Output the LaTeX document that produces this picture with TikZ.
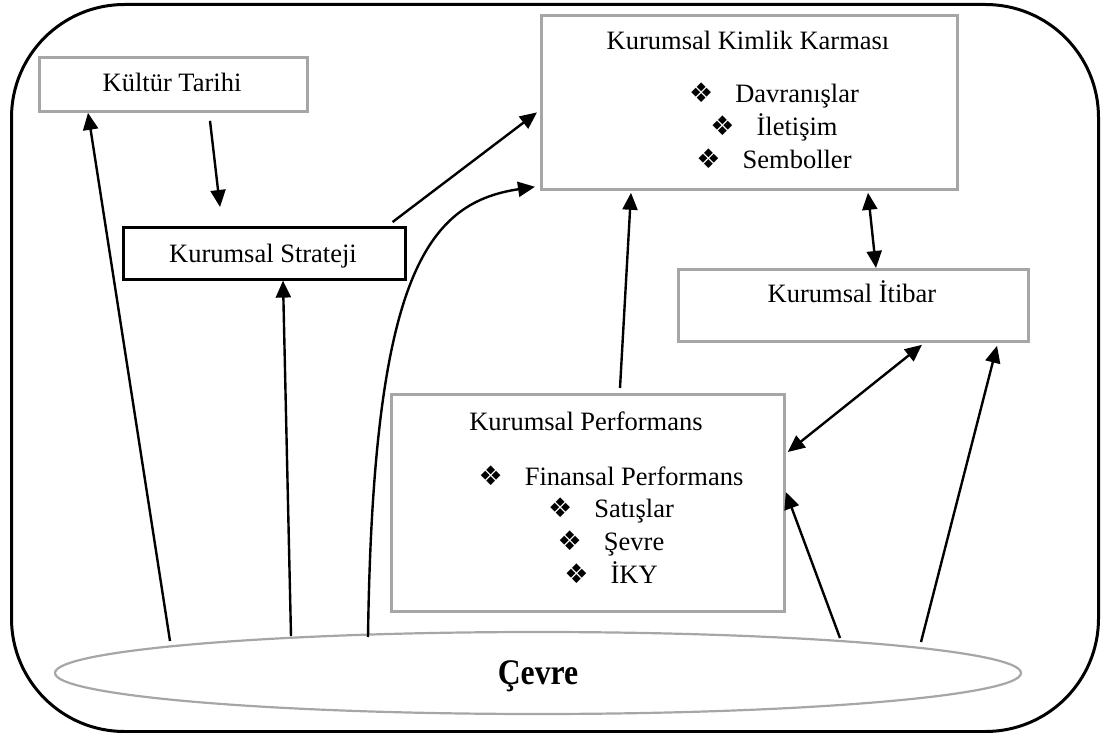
\documentclass[tikz,border=0pt]{standalone}
\usepackage{fontspec}
\setmainfont{Liberation Serif}
\newfontfamily\dingfont{DejaVu Sans}
\usetikzlibrary{arrows.meta,shapes.geometric}
\definecolor{boxgray}{HTML}{A6A6A6}
\newcommand\bul{{\dingfont\fontsize{27}{27}\selectfont ❖}}
\newcommand\itm[1]{\bul\hspace{22pt}#1}
\begin{document}
\begin{tikzpicture}[x=1pt,y=-1pt,
  lbl/.style={font=\fontsize{26.5}{30}\selectfont, inner sep=0pt, anchor=base},
  graybox/.style={draw=boxgray, line width=2.8pt, inner sep=0pt, anchor=north west},
  blackbox/.style={draw=black, line width=2.6pt, inner sep=0pt, anchor=north west},
  tip/.style={Triangle[length=17pt,width=15pt]},
  conn/.style={line width=2.4pt, -{Triangle[length=17pt,width=15pt]}},
  bothconn/.style={line width=2.4pt, {Triangle[length=17pt,width=15pt]}-{Triangle[length=17pt,width=15pt]}}]
\useasboundingbox (0,0) rectangle (1103,733);

% outer frame
\node[draw, line width=3pt, rounded corners=113pt, inner sep=0pt,
      minimum width=1087pt, minimum height=727pt, anchor=north west] (frame) at (10,3) {};

% boxes
\node[graybox, minimum width=268pt, minimum height=54pt] (kt) at (38,56) {};
\node[blackbox, minimum width=282pt, minimum height=52pt] (st) at (122,226) {};
\node[graybox, minimum width=416pt, minimum height=174pt] (kk) at (540,14) {};
\node[graybox, minimum width=350pt, minimum height=72pt] (it) at (677,268) {};
\node[graybox, minimum width=393pt, minimum height=217pt] (kp) at (390,393) {};
\node[ellipse, draw=boxgray, line width=2.2pt, inner sep=0pt,
      minimum width=966pt, minimum height=82pt] (ev) at (538,673) {};

% texts
\node[lbl] (ktT) at (172,92) {Kültür Tarihi};
\node[lbl] (stT) at (263,262) {Kurumsal Strateji};
\node[lbl] (kkT) at (748,50) {Kurumsal Kimlik Karması};
\node[lbl] (kk1) at (774,103) {\itm{Davranışlar}};
\node[lbl] (kk2) at (774,136) {\itm{İletişim}};
\node[lbl] (kk3) at (774,168) {\itm{Semboller}};
\node[lbl] (itT) at (852,302) {Kurumsal İtibar};
\node[lbl] (kpT) at (586,430) {Kurumsal Performans};
\node[lbl] (kp1) at (611,485) {\itm{Finansal Performans}};
\node[lbl] (kp2) at (611,517) {\itm{Satışlar}};
\node[lbl] (kp3) at (611,550) {\itm{Şevre}};
\node[lbl] (kp4) at (611,583) {\itm{İKY}};
\node[lbl, font=\fontsize{36}{40}\selectfont\bfseries] (evT) at (538,684) {\scalebox{0.88}[1]{Çevre}};

% connector ends resting on the ellipse
\coordinate (e1) at (170,641);
\coordinate (e2) at (291,636);
\coordinate (e3) at (368,637);
\coordinate (e4) at (840,638);
\coordinate (e5) at (921,642);

% connectors
\draw[conn] (e1) -- ([xshift=50pt]kt.south west);
\draw[conn] ([xshift=172pt,yshift=-8pt]kt.south west) -- ([xshift=98pt,yshift=19pt]st.north west);
\draw[conn] (e2) -- ([xshift=161pt]st.south west);
\draw[conn] ([xshift=-14pt,yshift=4pt]st.north east) -- ([xshift=-3pt,yshift=-10pt]kk.west);
\draw[conn] (e3) .. controls (373,280) and (425,203) .. ([xshift=-5pt,yshift=4pt]kk.south west);
\draw[conn] ([xshift=230pt,yshift=5pt]kp.north west) -- ([xshift=91pt,yshift=-2pt]kk.south west);
\draw[bothconn] ([xshift=328pt,yshift=-2pt]kk.south west) -- ([xshift=199pt]it.north west);
\draw[bothconn] ([xshift=245pt,yshift=-2pt]it.south west) -- ([xshift=2pt,yshift=-59pt]kp.north east);
\draw[conn] (e4) -- ([yshift=-99pt]kp.north east);
\draw[conn] (e5) -- ([xshift=320pt,yshift=-3pt]it.south west);
\end{tikzpicture}
\end{document}
